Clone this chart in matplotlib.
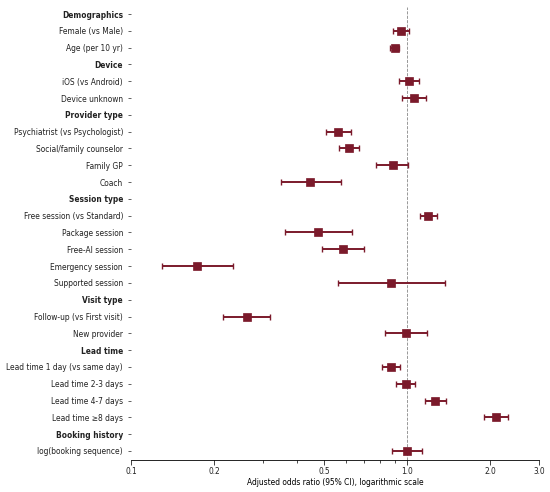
import numpy as np
import matplotlib.pyplot as plt
from matplotlib.ticker import FixedLocator, FixedFormatter, LogLocator, NullFormatter

# rows top to bottom; section headers have no estimate
labels = ['Demographics', 'Female (vs Male)', 'Age (per 10 yr)',
          'Device', 'iOS (vs Android)', 'Device unknown',
          'Provider type', 'Psychiatrist (vs Psychologist)', 'Social/family counselor',
          'Family GP', 'Coach',
          'Session type', 'Free session (vs Standard)', 'Package session',
          'Free-AI session', 'Emergency session', 'Supported session',
          'Visit type', 'Follow-up (vs First visit)', 'New provider',
          'Lead time', 'Lead time 1 day (vs same day)', 'Lead time 2-3 days',
          'Lead time 4-7 days', 'Lead time \u22658 days',
          'Booking history', 'log(booking sequence)']
is_header = [1, 0, 0, 1, 0, 0, 1, 0, 0, 0, 0, 1, 0, 0, 0, 0, 0,
             1, 0, 0, 1, 0, 0, 0, 0, 1, 0]

odds = [np.nan, 0.946, 0.903, np.nan, 1.012, 1.057, np.nan, 0.562, 0.615, 0.885, 0.446,
        np.nan, 1.188, 0.476, 0.585, 0.174, 0.874, np.nan, 0.263, 0.994,
        np.nan, 0.874, 0.988, 1.260, 2.097, np.nan, 1.000]
ci_low = [np.nan, 0.885, 0.869, np.nan, 0.932, 0.957, np.nan, 0.507, 0.567, 0.771, 0.349,
          np.nan, 1.108, 0.360, 0.493, 0.129, 0.560, np.nan, 0.215, 0.832,
          np.nan, 0.812, 0.911, 1.158, 1.904, np.nan, 0.880]
ci_high = [np.nan, 1.018, 0.932, np.nan, 1.105, 1.168, np.nan, 0.624, 0.670, 1.009, 0.575,
           np.nan, 1.282, 0.630, 0.696, 0.234, 1.372, np.nan, 0.319, 1.181,
           np.nan, 0.940, 1.070, 1.376, 2.323, np.nan, 1.134]

xticks = [0.1, 0.2, 0.5, 1.0, 2.0, 3.0]
xtick_labels = ['0.1', '0.2', '0.5', '1.0', '2.0', '3.0']

odds = np.array(odds)
lo = np.array(ci_low)
hi = np.array(ci_high)
y = np.arange(len(labels))
col = '#7b1a2b'

fig = plt.figure(figsize=(11, 9.84), dpi=50)
ax = fig.add_axes([0.2382, 0.065, 0.98 - 0.2382, 0.9858 - 0.065])

ax.axvline(1.0, color='#888888', linestyle='--', linewidth=1.2, zorder=1)
ax.errorbar(odds, y, xerr=[odds - lo, hi - odds], fmt='s', color=col,
            ecolor=col, elinewidth=2.8, capsize=4.5, capthick=2,
            markersize=11.5, zorder=3)

ax.set_xscale('log')
ax.set_xlim(0.1, 3.0)
ax.set_ylim(len(labels) - 0.46, -0.42)
ax.xaxis.set_major_locator(FixedLocator(xticks))
ax.xaxis.set_major_formatter(FixedFormatter(xtick_labels))
ax.xaxis.set_minor_locator(LogLocator(base=10, subs=np.arange(2, 10)))
ax.xaxis.set_minor_formatter(NullFormatter())

ax.set_yticks(y)
ax.set_yticklabels(labels)
for t, h in zip(ax.get_yticklabels(), is_header):
    if h:
        t.set_fontweight('bold')

ax.tick_params(axis='both', labelsize=10.8, colors='#222222')
ax.tick_params(axis='y', length=5, width=1, pad=6.5)
ax.tick_params(axis='x', which='major', length=7, width=1.2)
ax.tick_params(axis='x', which='minor', length=4, width=1)

for s in ['top', 'right', 'left']:
    ax.spines[s].set_visible(False)
ax.spines['bottom'].set_linewidth(1.2)
ax.set_xlabel('Adjusted odds ratio (95% CI), logarithmic scale', fontsize=10.8, labelpad=3)

fig.savefig('out.png', dpi=50)
